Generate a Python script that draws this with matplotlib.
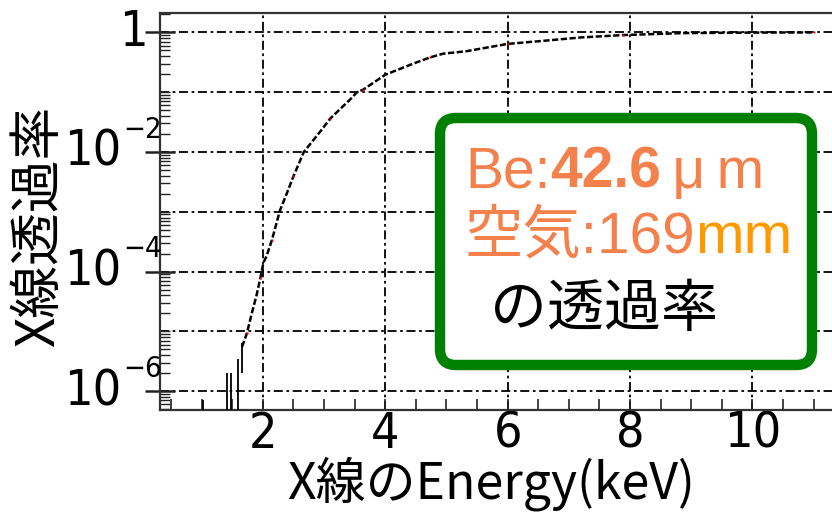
import numpy as np
import matplotlib
matplotlib.use("Agg")
import matplotlib.pyplot as plt
from matplotlib import font_manager
from matplotlib.font_manager import FontProperties
from matplotlib.patches import FancyBboxPatch
from matplotlib.transforms import IdentityTransform, blended_transform_factory, offset_copy

# X線透過率 (Be 42.6um + 空気 169mm)
energy_kev = [1.66, 1.74, 1.82, 1.90, 1.96, 2.01, 2.06, 2.15, 2.28, 2.39, 2.50, 2.67,
              2.94, 3.10, 3.43, 3.54, 3.64, 4.00, 4.46, 4.73, 4.95, 5.31, 6.00, 6.58,
              7.19, 7.89, 8.87, 10.0, 11.0]
transmission = [5.5e-6, 9.3e-6, 2.0e-5, 4.1e-5, 7.8e-5, 1.4e-4, 1.8e-4, 3.4e-4, 1.05e-3,
                2.0e-3, 3.9e-3, 1.0e-2, 2.2e-2, 3.6e-2, 7.6e-2, 1.0e-1, 0.11, 0.195,
                0.30, 0.38, 0.44, 0.48, 0.64, 0.72, 0.82, 0.90, 0.97, 0.99, 0.995]

# 低エネルギー側のノイズ(縦線)
noise_kev = [1.02, 1.42, 1.48, 1.60, 1.66]
noise_lo = [1e-7, 1e-7, 1e-7, 1e-7, 2.0e-6]
noise_hi = [7.0e-7, 2.0e-6, 2.0e-6, 3.4e-6, 6.3e-6]

xticks = [2, 4, 6, 8, 10]
label_decades = [0, -2, -4, -6]
grid_decades = [0, -1, -2, -3, -4, -5, -6]

# 数字用の細めのフォント(無ければ Liberation Sans)
narrow = [f.fname for f in font_manager.fontManager.ttflist
          if f.fname.endswith(("LiberationSansNarrow-Regular.ttf", "DejaVuSansCondensed.ttf"))]
if narrow:
    num_fp = FontProperties(fname=narrow[0], size=36)
    exp_fp = FontProperties(fname=narrow[0], size=21)
else:
    num_fp = FontProperties(family="Liberation Sans", size=32)
    exp_fp = FontProperties(family="Liberation Sans", size=18)
jp = ["Noto Sans CJK JP", "DejaVu Sans"]
box_font = ["Liberation Sans", "Noto Sans CJK JP", "DejaVu Sans"]

fig = plt.figure(figsize=(8.32, 5.17), dpi=100)
ax = fig.add_axes([160 / 832, 107 / 517, 672 / 832, 397 / 517])

ax.set_yscale("log")
ax.set_xlim(0.32, 11.30)
ax.set_ylim(10 ** -6.316, 10 ** 0.323)

grid_kw = dict(color="black", lw=1.3, ls=(0, (5, 2, 1.5, 2)), zorder=1)
for x in xticks:
    ax.axvline(x, **grid_kw)
for p in grid_decades:
    ax.axhline(10.0 ** p, **grid_kw)

ax.vlines(noise_kev, noise_lo, noise_hi, color="black", lw=1.3, zorder=3)
ax.plot(energy_kev, transmission, color="black", lw=1.8, ls=(0, (2.5, 1)), zorder=3)
ax.plot(energy_kev[1::3], transmission[1::3], ls="none", marker="s", ms=1.8,
        mec="none", mfc="red", zorder=4)

for side in ["top", "left", "bottom"]:
    ax.spines[side].set_color("#333333")
    ax.spines[side].set_linewidth(1.6)
ax.spines["right"].set_visible(False)

# x軸
ax.set_xticks(xticks)
ax.set_xticks(np.arange(0.5, 11.3, 0.5), minor=True)
ax.set_xticklabels([str(v) for v in xticks], fontproperties=num_fp)
ax.tick_params(axis="x", which="both", direction="in", length=8, width=1.2,
               pad=0, top=False, color="#222222")

# y軸: 偶数桁のみラベル
ax.yaxis.set_major_locator(matplotlib.ticker.FixedLocator([10.0 ** p for p in label_decades]))
minor = [s * 10.0 ** p for p in range(-7, 1) for s in range(1, 10)
         if not (s == 1 and p in label_decades)]
ax.yaxis.set_minor_locator(matplotlib.ticker.FixedLocator(minor))
ax.yaxis.set_major_formatter(matplotlib.ticker.NullFormatter())
ax.yaxis.set_minor_formatter(matplotlib.ticker.NullFormatter())
ax.tick_params(axis="y", which="major", direction="inout", length=22, width=1.8,
               right=False, color="#222222")
ax.tick_params(axis="y", which="minor", direction="in", length=7, width=1.0,
               right=False, color="#222222")

blend = blended_transform_factory(ax.transAxes, ax.transData)
up = offset_copy(blend, fig=fig, y=16, units="points")
for p in label_decades:
    if p == 0:
        ax.text(-0.018, 1.0, "1", transform=blend, ha="right", va="center",
                fontproperties=num_fp, clip_on=False)
    else:
        ax.text(-0.057, 10.0 ** p, "10", transform=blend, ha="right", va="center",
                fontproperties=num_fp, clip_on=False)
        ax.text(-0.055, 10.0 ** p, "\u2212" + str(-p), transform=up, ha="left",
                va="center", fontproperties=exp_fp, clip_on=False)

fig.text(491 / 832, 1 - 484 / 517, "X線のEnergy(keV)", fontsize=36, family=jp,
         ha="center", va="center")
fig.text(39 / 832, 1 - 226 / 517, "X線透過率", fontsize=38, family=jp,
         rotation=90, ha="center", va="center")

# 注記ボックス
box = FancyBboxPatch((440, 152), 372, 247, boxstyle="round,pad=0,rounding_size=16",
                     transform=IdentityTransform(), fc="white", ec="#008000", lw=7.5,
                     zorder=5)
fig.add_artist(box)

renderer = fig.canvas.get_renderer()


def put_run(x_px, base_px, parts, size):
    x = x_px
    for s, c, w in parts:
        t = fig.text(x / 832, 1 - base_px / 517, s, color=c, fontsize=size,
                     fontweight=w, family=box_font, va="baseline", ha="left", zorder=6)
        x = t.get_window_extent(renderer).x1
    return x


coral = "#F4804C"
put_run(465, 188, [("Be:", coral, "normal"), ("42.6", coral, "bold"),
                   ("\u2009μ\u2009m", coral, "normal")], 41)
put_run(465, 253, [("空気:169", coral, "normal"), ("mm", "#FF9900", "normal")], 42)
put_run(490, 326, [("の透過率", "black", "normal")], 41)

fig.savefig("out.png", dpi=100)
